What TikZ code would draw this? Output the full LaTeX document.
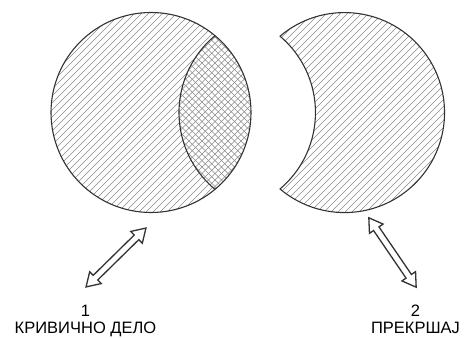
\documentclass[tikz,border=0pt]{standalone}
\usepackage{fontspec}
\setmainfont{Liberation Sans}
\usepackage{tikz}
\usetikzlibrary{shapes.arrows}

\definecolor{edgegray}{HTML}{333333}
\definecolor{hatchgray}{HTML}{8A8A8A}

\begin{document}
\begin{tikzpicture}[x=1pt, y=1pt,
  outline/.style={draw=edgegray, line width=1.1pt, line join=round},
  hatch/.style={draw=hatchgray, line width=0.5pt},
  twoway/.style={double arrow, draw=edgegray, line width=1.3pt, fill=white,
    minimum height=84pt, inner sep=2.6pt, double arrow head extend=5pt,
    double arrow tip angle=64, double arrow head indent=0pt},
  caption/.style={font=\fontsize{16.5}{19}\selectfont, inner sep=0pt, anchor=base}]
\useasboundingbox (0,0) rectangle (465,337);

% left circle: single hatch
\begin{scope}
\clip (151,224.5) circle (100);
\foreach \c in {-133,-126,...,280}
  \draw[hatch] (40,40+\c) -- (260,260+\c);
\end{scope}

% overlap: cross hatch
\begin{scope}
\clip (151,224.5) circle (100);
\clip (279,224.5) circle (100);
\fill[white] (170,120) rectangle (260,330);
\foreach \c in {-110,-103.5,...,130}
  \draw[hatch] (170,170+\c) -- (260,260+\c);
\foreach \c in {320,326.5,...,560}
  \draw[hatch] (170,\c-170) -- (260,\c-260);
\end{scope}

\draw[outline] (151,224.5) circle (100);
\draw[outline] (215,301.3) arc[start angle=129.8, end angle=230.2, radius=100];

% right crescent
\begin{scope}
\clip (280,300.8) arc[start angle=130.2, end angle=-130.2, radius=100]
  arc[start angle=-49.8, end angle=49.8, radius=100] -- cycle;
\foreach \c in {-325,-318,...,50}
  \draw[hatch] (270,270+\c) -- (450,450+\c);
\end{scope}
\draw[outline] (280,300.8) arc[start angle=130.2, end angle=-130.2, radius=100]
  arc[start angle=-49.8, end angle=49.8, radius=100] -- cycle;

% arrows
\node[twoway, rotate=44.5] (arrowA) at (116,79.5) {};
\node[twoway, rotate=-55.7] (arrowB) at (392.5,84.5) {};

% labels
\node[caption] (numA) at (85.5,21) {1};
\node[caption] (textA) at (85.5,4) {КРИВИЧНО ДЕЛО};
\node[caption] (numB) at (415.5,21) {2};
\node[caption] (textB) at (415.5,4) {ПРЕКРШАЈ};
\end{tikzpicture}
\end{document}
